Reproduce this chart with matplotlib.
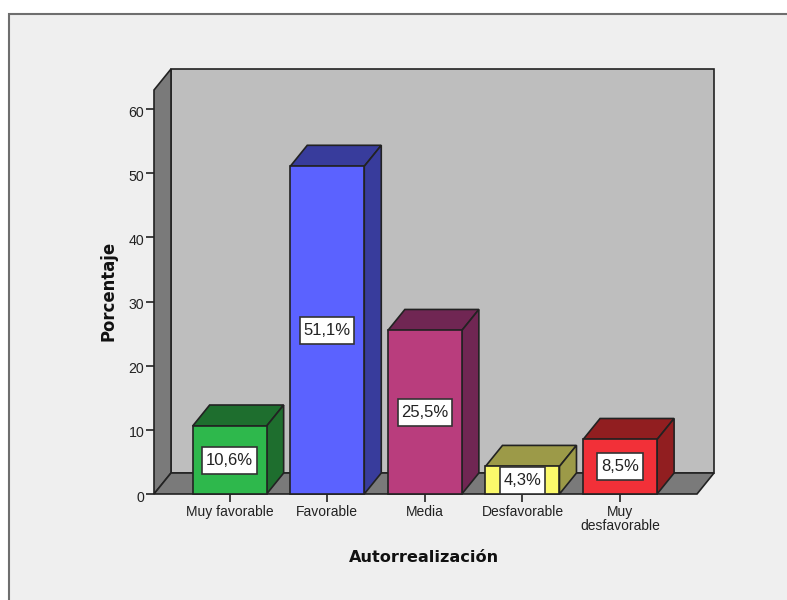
#!/usr/bin/env python3

# Autorrealización: pseudo 3D bar chart of percentages per category

import matplotlib
matplotlib.use('Agg')
import matplotlib.pyplot as plt
from matplotlib.patches import Polygon, Rectangle
from matplotlib.path import Path
from matplotlib.transforms import ScaledTranslation

plt.rcParams.update({
    'font.family': ['Liberation Sans', 'DejaVu Sans'],
    'axes.linewidth': 1.2,
})

categories = ['Muy favorable', 'Favorable', 'Media', 'Desfavorable', 'Muy\ndesfavorable']
values = [10.6, 51.1, 25.5, 4.3, 8.5]
value_labels = ['10,6%', '51,1%', '25,5%', '4,3%', '8,5%']
yticks = [0, 10, 20, 30, 40, 50, 60]

front_colors = ['#2EB84C', '#5B62FF', '#B93D7D', '#FBF96B', '#F23038']
dark_colors = ['#1E6E2E', '#383C9C', '#702653', '#9C9A48', '#911E20']
EDGE = '#222222'
PANEL = '#EFEFEF'
WALL = '#BEBEBE'
FLOOR = '#7A7A7A'

W, H = 787, 600
# plot area in pixels (front plane)
LEFT, RIGHT, BOTTOM, TOP = 154, 697, 494, 90

fig = plt.figure(figsize=(W / 100, H / 100), dpi=100, facecolor='white')

# grey panel behind the chart, runs off the bottom of the figure
fig.patches.append(Rectangle((9 / W, -0.02), (W - 5) / W, 1 - 14 / H + 0.02,
                             transform=fig.transFigure, facecolor=PANEL,
                             edgecolor='#6E6E6E', linewidth=1.5, zorder=-1))

ax = fig.add_axes([LEFT / W, 1 - BOTTOM / H, (RIGHT - LEFT) / W, (BOTTOM - TOP) / H])
ax.patch.set_visible(False)
ax.set_xlim(-0.775, 4.788)
ax.set_ylim(0, 63)

# depth of the fake 3D in data units
dx = 17 / 97.6
dy = 21 / 6.41
bar_width = 74 / 97.6
x0, x1 = ax.get_xlim()
y0, y1 = ax.get_ylim()


def poly(points, color, z):
    ax.add_patch(Polygon(points, closed=True, facecolor=color, edgecolor=EDGE,
                         linewidth=1.2, joinstyle='miter', clip_on=False, zorder=z))


# value label box: narrow at the sides, tall above and below
def label_box(bx, by, bw, bh, mutation_size):
    px, py = 0.22 * mutation_size, 0.36 * mutation_size
    return Path([(bx - px, by - py), (bx + bw + px, by - py), (bx + bw + px, by + bh + py),
                 (bx - px, by + bh + py), (bx - px, by - py)], closed=True)


# back wall, left wall, floor
poly([(x0 + dx, y0 + dy), (x1 + dx, y0 + dy), (x1 + dx, y1 + dy), (x0 + dx, y1 + dy)], WALL, 1)
poly([(x0, y0), (x0 + dx, y0 + dy), (x0 + dx, y1 + dy), (x0, y1)], FLOOR, 1)
poly([(x0, y0), (x1, y0), (x1 + dx, y0 + dy), (x0 + dx, y0 + dy)], FLOOR, 1)

for i, val in enumerate(values):
    l = i - bar_width / 2
    r = i + bar_width / 2
    poly([(l, val), (r, val), (r + dx, val + dy), (l + dx, val + dy)], dark_colors[i], 3)
    poly([(r, 0), (r + dx, dy), (r + dx, val + dy), (r, val)], dark_colors[i], 3)
    poly([(l, 0), (r, 0), (r, val), (l, val)], front_colors[i], 4)
    ax.text(i, val / 2, value_labels[i], ha='center', va='center', fontsize=12,
            color='#222222', zorder=6,
            bbox=dict(boxstyle=label_box, facecolor='white', edgecolor='#333333',
                      linewidth=1.2))

for side in ax.spines.values():
    side.set_visible(False)

ax.set_xticks(range(len(categories)))
ax.set_xticklabels(categories, fontsize=10, color='#222222', linespacing=1.0)
ax.set_yticks(yticks)
ax.tick_params(axis='x', length=6, width=1.2, color=EDGE, pad=2)
ax.tick_params(axis='y', length=6, width=1.2, color=EDGE, pad=1, labelsize=10.2, labelcolor='#222222')

# y labels sit slightly below their ticks
shift = ScaledTranslation(0, -1.5 / 72, fig.dpi_scale_trans)
for label in ax.get_yticklabels():
    label.set_transform(label.get_transform() + shift)

fig.text(424 / W, 1 - 557 / H, 'Autorrealización', ha='center', va='center',
         fontsize=11.6, fontweight='bold', color='#111111', family='DejaVu Sans')
fig.text(108 / W, 1 - 291 / H, 'Porcentaje', ha='center', va='center', rotation=90,
         fontsize=11.9, fontweight='bold', color='#111111', family='DejaVu Sans')

fig.savefig('out.png', dpi=100, facecolor='white')
plt.close(fig)
